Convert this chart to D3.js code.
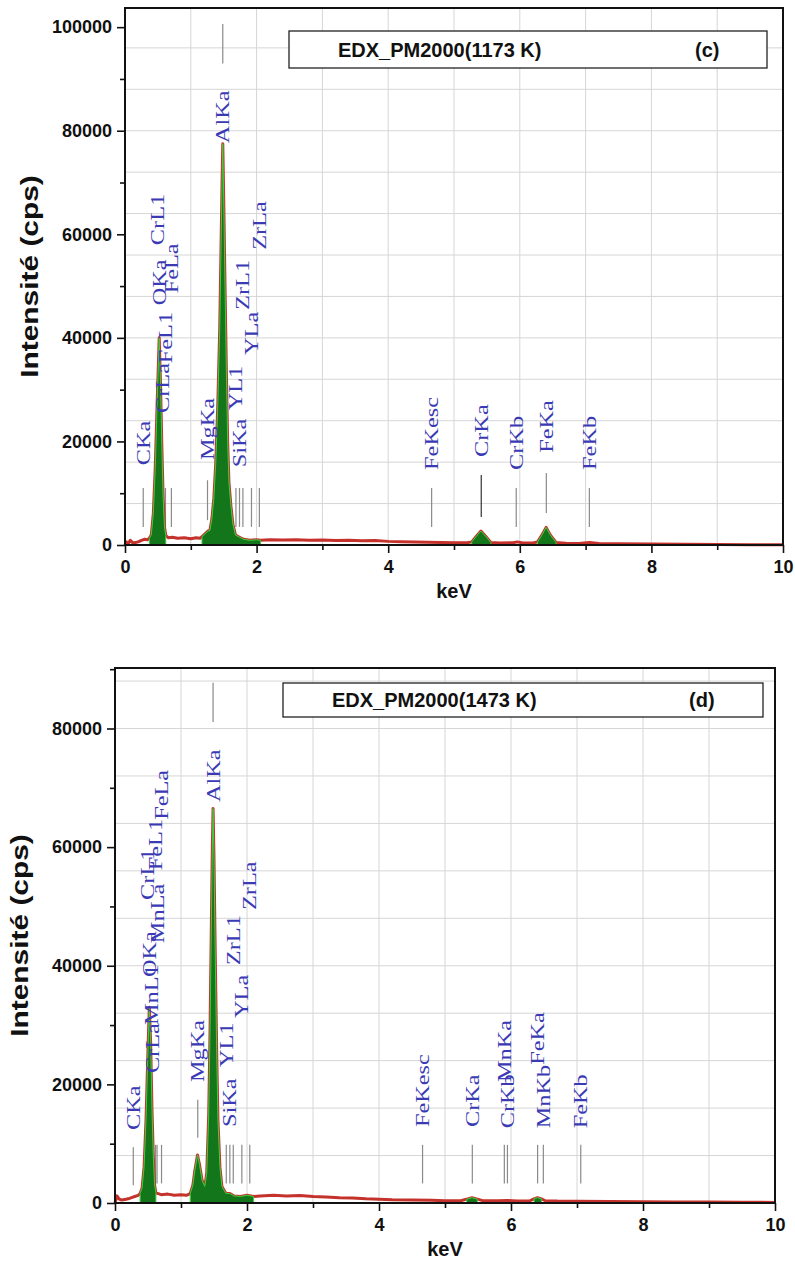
<!DOCTYPE html>
<html>
<head>
<meta charset="utf-8">
<script src="https://cdn.jsdelivr.net/npm/d3@7"></script>
<style>
  body { margin: 0; background: #fff; }
  svg { display: block; }
</style>
</head>
<body>
<svg id="fig" width="795" height="1285"></svg>
<script>
// ---- EDX spectra of PM2000 (keV, counts per second) ----
const spectrum1173 = [
  [0.00, 0], [0.02, 600], [0.05, 300], [0.08, 900], [0.12, 400], [0.16, 500], [0.20, 600],
  [0.25, 900], [0.30, 1100], [0.34, 1000], [0.37, 1300], [0.40, 2000], [0.43, 6000],
  [0.46, 15000], [0.49, 28000], [0.52, 40000], [0.54, 31000], [0.56, 19000], [0.58, 9000],
  [0.60, 3500], [0.62, 1800], [0.66, 1400], [0.72, 1500], [0.80, 1300], [0.90, 1400],
  [1.00, 1200], [1.08, 1400], [1.14, 1300], [1.17, 1600], [1.22, 2200], [1.26, 2700],
  [1.29, 2800], [1.32, 5000], [1.35, 9000], [1.38, 16000], [1.41, 27000], [1.44, 42000],
  [1.46, 58000], [1.475, 70000], [1.486, 77500], [1.50, 67000], [1.52, 50000], [1.54, 34000],
  [1.56, 20000], [1.58, 12000], [1.61, 7500], [1.64, 4000], [1.68, 1900], [1.74, 1500],
  [1.80, 1100], [1.90, 900], [2.00, 1000], [2.06, 900], [2.20, 1000], [2.40, 950], [2.60, 1000],
  [2.80, 900], [3.00, 950], [3.20, 850], [3.40, 900], [3.60, 800], [3.80, 850], [4.00, 700],
  [4.20, 650], [4.40, 600], [4.60, 550], [4.80, 500], [5.00, 450], [5.20, 450], [5.27, 600],
  [5.34, 1700], [5.41, 2700], [5.48, 1700], [5.56, 500], [5.70, 400], [5.90, 450], [5.96, 600],
  [6.05, 400], [6.20, 380], [6.27, 600], [6.34, 2000], [6.40, 3400], [6.46, 2000], [6.55, 500],
  [6.70, 350], [6.90, 300], [7.06, 500], [7.20, 280], [7.50, 250], [8.00, 200], [8.50, 150],
  [9.00, 100], [9.50, 50], [10.0, 30]
];
const peakBands1173 = [[0.37, 0.63], [1.15, 2.07], [5.25, 5.58], [6.25, 6.57]];

const spectrum1473 = [
  [0.00, 0], [0.03, 1200], [0.06, 700], [0.10, 500], [0.15, 600], [0.20, 700], [0.25, 900],
  [0.30, 1100], [0.35, 1300], [0.38, 1600], [0.41, 2500], [0.44, 6000], [0.47, 14000],
  [0.50, 26000], [0.52, 33000], [0.54, 27000], [0.56, 16000], [0.58, 8000], [0.60, 3000],
  [0.62, 1700], [0.70, 1400], [0.80, 1500], [0.90, 1300], [1.00, 1400], [1.08, 1300],
  [1.14, 1600], [1.18, 3000], [1.21, 5500], [1.25, 8100], [1.28, 6500], [1.32, 3800],
  [1.36, 2800], [1.39, 5000], [1.42, 15000], [1.44, 29000], [1.46, 47000], [1.475, 60000],
  [1.486, 66500], [1.50, 58000], [1.52, 41000], [1.54, 26000], [1.56, 14000], [1.59, 6000],
  [1.62, 2800], [1.68, 1600], [1.74, 1600], [1.80, 1200], [1.90, 1100], [2.00, 1300],
  [2.10, 1100], [2.20, 1200], [2.40, 1300], [2.60, 1200], [2.80, 1250], [3.00, 1100],
  [3.20, 1000], [3.40, 900], [3.60, 850], [3.80, 700], [4.00, 650], [4.20, 550], [4.50, 500],
  [4.80, 450], [5.00, 400], [5.25, 420], [5.33, 650], [5.41, 900], [5.49, 650], [5.57, 400],
  [5.80, 380], [5.95, 420], [6.10, 350], [6.29, 400], [6.35, 700], [6.40, 900], [6.46, 700],
  [6.52, 380], [6.70, 320], [7.00, 300], [7.50, 250], [8.00, 220], [8.50, 180], [9.00, 150],
  [9.50, 130], [10.0, 100]
];
const peakBands1473 = [[0.37, 0.63], [1.13, 2.15], [5.27, 5.55], [6.30, 6.50]];

// ---- element lines: name, energy (keV), marker span (cps), label start (cps) ----
const lines1173 = [
  { name: "CKa",    keV: 0.277, lo: 3500,  hi: 11000,  at: 15400 },
  { name: "CrL1",   keV: 0.500, lo: 3500,  hi: 11000,  at: 57900 },
  { name: "OKa",    keV: 0.525, lo: 3500,  hi: 11000,  at: 46300 },
  { name: "CrLa",   keV: 0.573, lo: 3500,  hi: 11000,  at: 25500 },
  { name: "FeL1",   keV: 0.615, lo: 3500,  hi: 11000,  at: 35100 },
  { name: "FeLa",   keV: 0.705, lo: 3500,  hi: 11000,  at: 48600 },
  { name: "MgKa",   keV: 1.254, lo: 4800,  hi: 12500,  at: 16400 },
  { name: "AlKa",   keV: 1.486, lo: 93000, hi: 100600, at: 77600 },
  { name: "YL1",    keV: 1.686, lo: 3500,  hi: 11000,  at: 26000 },
  { name: "SiKa",   keV: 1.740, lo: 3500,  hi: 11000,  at: 15000 },
  { name: "ZrL1",   keV: 1.792, lo: 3500,  hi: 11000,  at: 45400 },
  { name: "YLa",    keV: 1.922, lo: 3500,  hi: 11000,  at: 36700 },
  { name: "ZrLa",   keV: 2.042, lo: 3500,  hi: 11000,  at: 57000 },
  { name: "FeKesc", keV: 4.660, lo: 3500,  hi: 11000,  at: 14500 },
  { name: "CrKa",   keV: 5.414, lo: 5400,  hi: 13500,  at: 17000 },
  { name: "CrKb",   keV: 5.946, lo: 3500,  hi: 11000,  at: 14500 },
  { name: "FeKa",   keV: 6.403, lo: 6200,  hi: 13900,  at: 17800 },
  { name: "FeKb",   keV: 7.057, lo: 3500,  hi: 11000,  at: 14500 }
];
const lines1473 = [
  { name: "CKa",    keV: 0.277, lo: 3000,  hi: 9400,  at: 12300 },
  { name: "CrL1",   keV: 0.500, lo: 3300,  hi: 9800,  at: 51100 },
  { name: "OKa",    keV: 0.525, lo: 3300,  hi: 9800,  at: 38100 },
  { name: "MnL1",   keV: 0.556, lo: 3300,  hi: 9800,  at: 30000 },
  { name: "CrLa",   keV: 0.573, lo: 3300,  hi: 9800,  at: 21900 },
  { name: "FeL1",   keV: 0.615, lo: 3300,  hi: 9800,  at: 56100 },
  { name: "MnLa",   keV: 0.637, lo: 3300,  hi: 9800,  at: 43800 },
  { name: "FeLa",   keV: 0.705, lo: 3300,  hi: 9800,  at: 64600 },
  { name: "MgKa",   keV: 1.254, lo: 11000, hi: 17400, at: 20400 },
  { name: "AlKa",   keV: 1.486, lo: 81100, hi: 87700, at: 67600 },
  { name: "YL1",    keV: 1.686, lo: 3300,  hi: 9800,  at: 22900 },
  { name: "SiKa",   keV: 1.740, lo: 3300,  hi: 9800,  at: 12800 },
  { name: "ZrL1",   keV: 1.792, lo: 3300,  hi: 9800,  at: 40100 },
  { name: "YLa",    keV: 1.922, lo: 3300,  hi: 9800,  at: 31200 },
  { name: "ZrLa",   keV: 2.042, lo: 3300,  hi: 9800,  at: 49400 },
  { name: "FeKesc", keV: 4.660, lo: 3300,  hi: 9800,  at: 12800 },
  { name: "CrKa",   keV: 5.414, lo: 3300,  hi: 9800,  at: 12800 },
  { name: "MnKa",   keV: 5.899, lo: 3300,  hi: 9800,  at: 20400 },
  { name: "CrKb",   keV: 5.946, lo: 3300,  hi: 9800,  at: 12600 },
  { name: "FeKa",   keV: 6.403, lo: 3300,  hi: 9800,  at: 23300 },
  { name: "MnKb",   keV: 6.490, lo: 3300,  hi: 9800,  at: 12600 },
  { name: "FeKb",   keV: 7.057, lo: 3300,  hi: 9800,  at: 12600 }
];

// ---- axis ticks ----
const energyTicks = [0, 2, 4, 6, 8, 10];
const energyMinorTicks = [1, 3, 5, 7, 9];
const countTicks1173 = [0, 20000, 40000, 60000, 80000, 100000];
const countTicks1473 = [0, 20000, 40000, 60000, 80000];
const gridStepCps = 8000;

const svg = d3.select("#fig");
svg.append("rect").attr("width", 795).attr("height", 1285).attr("fill", "#fff");

function drawPanel(o) {
  const g = svg.append("g");
  const x = d3.scaleLinear().domain([0, 10]).range([o.left, o.right]);
  const y = d3.scaleLinear().domain([0, o.yMax]).range([o.bottom, o.top]);

  // grid
  g.append("g").selectAll("line").data(d3.range(1, 10)).join("line")
    .attr("x1", d => x(d)).attr("x2", d => x(d))
    .attr("y1", o.top).attr("y2", o.bottom)
    .attr("stroke", "#d6d6d6").attr("stroke-width", 1);
  g.append("g").selectAll("line").data(d3.range(gridStepCps, o.yMax, gridStepCps)).join("line")
    .attr("x1", o.left).attr("x2", o.right)
    .attr("y1", d => y(d)).attr("y2", d => y(d))
    .attr("stroke", "#d6d6d6").attr("stroke-width", 1);

  // element marker lines
  g.append("g").selectAll("line").data(o.lines).join("line")
    .attr("x1", d => x(d.keV)).attr("x2", d => x(d.keV))
    .attr("y1", d => y(d.lo)).attr("y2", d => y(d.hi))
    .attr("stroke", d => (o.dark || []).includes(d.name) ? "#333" : "#8a8a8a")
    .attr("stroke-width", 1.2);

  // spectrum background trace
  const trace = d3.line().x(d => x(d[0])).y(d => y(d[1]));
  g.append("path").datum(o.spectrum).attr("d", trace)
    .attr("fill", "none").attr("stroke", "#c4322b").attr("stroke-width", 3)
    .attr("stroke-linejoin", "round");

  // identified peaks, filled
  const area = d3.area().x(d => x(d[0])).y0(y(0)).y1(d => y(d[1]));
  o.bands.forEach(([a, b]) => {
    const pts = o.spectrum.filter(d => d[0] >= a && d[0] <= b);
    g.append("path").datum(pts).attr("d", area)
      .attr("fill", "#13761a").attr("stroke", "#3fcf3f").attr("stroke-width", 1);
  });

  // element labels (rotated)
  g.append("g").selectAll("text").data(o.lines).join("text")
    .attr("transform", d => `translate(${x(d.keV)},${y(d.at)}) rotate(-90) scale(1.28,1)`)
    .attr("dy", "0.34em")
    .attr("font-family", "'Liberation Serif', 'DejaVu Serif', serif")
    .attr("font-size", 19)
    .attr("fill", "#3a3ab4")
    .text(d => d.name);

  // axes
  const axisFont = "'Liberation Sans', Arial, sans-serif";
  const xMinor = g.append("g").attr("transform", `translate(0,${o.bottom})`)
    .call(d3.axisBottom(x).tickValues(energyMinorTicks).tickSize(5).tickFormat(""));
  const xMajor = g.append("g").attr("transform", `translate(0,${o.bottom})`)
    .call(d3.axisBottom(x).tickValues(energyTicks).tickSize(8).tickPadding(7).tickFormat(d3.format("d")));
  const yMinor = g.append("g").attr("transform", `translate(${o.left},0)`)
    .call(d3.axisLeft(y).tickValues(o.countTicks.map(v => v + 10000).filter(v => v < o.yMax)).tickSize(5).tickFormat(""));
  const yMajor = g.append("g").attr("transform", `translate(${o.left},0)`)
    .call(d3.axisLeft(y).tickValues(o.countTicks).tickSize(8).tickPadding(5).tickFormat(d3.format("d")));
  [xMinor, xMajor, yMinor, yMajor].forEach(a => {
    a.select(".domain").remove();
    a.selectAll("line").attr("stroke", "#111").attr("stroke-width", 1.6);
    a.selectAll("text").attr("font-family", axisFont).attr("font-weight", "bold")
      .attr("fill", "#111").attr("font-size", 18);
  });

  // frame
  g.append("rect").attr("x", o.left).attr("y", o.top)
    .attr("width", o.right - o.left).attr("height", o.bottom - o.top)
    .attr("fill", "none").attr("stroke", "#111").attr("stroke-width", 2);

  // title box
  const bx = o.boxLeft, bw = o.boxWidth;
  g.append("rect").attr("x", bx).attr("y", o.boxTop).attr("width", bw).attr("height", o.boxHeight)
    .attr("fill", "#fff").attr("stroke", "#222").attr("stroke-width", 1.3);
  g.append("text").attr("x", bx + 49).attr("y", o.boxTop + o.boxHeight / 2).attr("dy", "0.36em")
    .attr("font-family", axisFont).attr("font-weight", "bold").attr("font-size", 20)
    .attr("fill", "#111").text(o.title);
  g.append("text").attr("x", bx + 406).attr("y", o.boxTop + o.boxHeight / 2).attr("dy", "0.36em")
    .attr("font-family", axisFont).attr("font-weight", "bold").attr("font-size", 20)
    .attr("fill", "#111").text(o.tag);

  // axis titles
  g.append("text")
    .attr("transform", `translate(${o.left - 95},${(o.top + o.bottom) / 2}) rotate(-90) scale(1.3,1)`)
    .attr("text-anchor", "middle").attr("dy", "0.35em")
    .attr("font-family", axisFont).attr("font-weight", "bold").attr("font-size", 23)
    .attr("fill", "#111").text("Intensité (cps)");
  g.append("text")
    .attr("x", (o.left + o.right) / 2).attr("y", o.bottom + 53)
    .attr("text-anchor", "middle")
    .attr("font-family", axisFont).attr("font-weight", "bold").attr("font-size", 20)
    .attr("fill", "#111").text("keV");
}

drawPanel({
  left: 125, right: 783, top: 8, bottom: 545, yMax: 103700,
  spectrum: spectrum1173, bands: peakBands1173, lines: lines1173, dark: ["CrKa"],
  countTicks: countTicks1173,
  boxLeft: 289, boxTop: 31, boxWidth: 478, boxHeight: 37,
  title: "EDX_PM2000(1173 K)", tag: "(c)"
});

drawPanel({
  left: 115, right: 775, top: 668, bottom: 1203, yMax: 90200,
  spectrum: spectrum1473, bands: peakBands1473, lines: lines1473, dark: [],
  countTicks: countTicks1473,
  boxLeft: 283, boxTop: 683, boxWidth: 480, boxHeight: 34,
  title: "EDX_PM2000(1473 K)", tag: "(d)"
});
</script>
</body>
</html>
